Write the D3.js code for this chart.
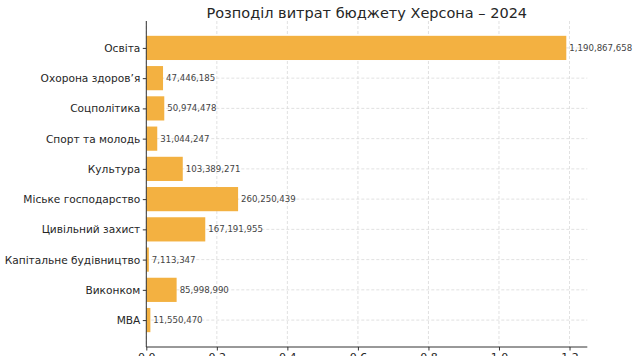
<!DOCTYPE html>
<html><head><meta charset="utf-8">
<script src="https://cdn.jsdelivr.net/npm/d3@7"></script>
<style>
html,body{margin:0;padding:0;background:#fff;}
svg{display:block;font-family:"DejaVu Sans",sans-serif;}
</style></head>
<body><svg id="c" width="640" height="356"></svg>
<script>
const categories = ["Освіта","Охорона здоров’я","Соцполітика","Спорт та молодь","Культура","Міське господарство","Цивільний захист","Капітальне будівництво","Виконком","МВА"];
const values = [1190867658,47446185,50974478,31044247,103389271,260250439,167191955,7113347,85998990,11550470];
const xTicks = [0,0.2e9,0.4e9,0.6e9,0.8e9,1.0e9,1.2e9];
const xTickLabels = ["0.0","0.2","0.4","0.6","0.8","1.0","1.2"];
const title = "Розподіл витрат бюджету Херсона – 2024";

const svg = d3.select("#c");
const L = 146.3, R = 587.3, T = 21, B = 347;
const x = d3.scaleLinear().domain([0, d3.max(values)*1.05]).range([L, R]);
const n = categories.length;
const step = (B - T) / (n - 1 + 0.8 + 0.98);
const y0 = T + step*0.89;
const y = d3.scalePoint().domain(categories).range([y0, y0 + step*(n-1)]);
const bh = step*0.8;

// grid
const g = svg.append("g");
g.selectAll("line.vg").data(xTicks).join("line")
  .attr("x1", d=>x(d)).attr("x2", d=>x(d)).attr("y1", T).attr("y2", B)
  .attr("stroke","#d9d9d9").attr("stroke-width",0.8).attr("stroke-dasharray","3,2");
g.selectAll("line.hg").data(categories).join("line")
  .attr("x1", L).attr("x2", R).attr("y1", d=>y(d)).attr("y2", d=>y(d))
  .attr("stroke","#d9d9d9").attr("stroke-width",0.8).attr("stroke-dasharray","3,2");

// bars
svg.append("g").selectAll("rect").data(values).join("rect")
  .attr("x", x(0)).attr("y", (d,i)=>y(categories[i]) - bh/2)
  .attr("width", d=>x(d)-x(0)).attr("height", bh)
  .attr("fill","#f3b141");

// value labels
const fmt = d3.format(",");
svg.append("g").selectAll("text").data(values).join("text")
  .attr("x", d=>x(d)+3).attr("y", (d,i)=>y(categories[i]))
  .attr("dy","0.35em").attr("font-size","8.6px").attr("fill","#444")
  .text(d=>fmt(d));

// y axis
const ya = svg.append("g").attr("transform",`translate(${L},0)`)
  .call(d3.axisLeft(y).tickSize(3.5).tickPadding(2.5));
ya.select(".domain").attr("stroke","#333").attr("d", `M0,${T}V${B}`);
ya.selectAll(".tick line").attr("stroke","#333");
ya.selectAll(".tick text").attr("font-size","10.6px").attr("fill","#262626").attr("font-family","DejaVu Sans");

// x axis
const xa = svg.append("g").attr("transform",`translate(0,${B})`)
  .call(d3.axisBottom(x).tickValues(xTicks).tickFormat((d,i)=>xTickLabels[i]).tickSize(3.5).tickPadding(3));
xa.select(".domain").attr("stroke","#333").attr("d", `M${L},0H${R}`);
xa.selectAll(".tick line").attr("stroke","#333");
xa.selectAll(".tick text").attr("font-size","11px").attr("fill","#262626").attr("font-family","DejaVu Sans");

// title
svg.append("text").attr("x",(L+R)/2).attr("y",18).attr("text-anchor","middle")
  .attr("font-size","14.5px").attr("fill","#262626").text(title);
</script></body></html>
